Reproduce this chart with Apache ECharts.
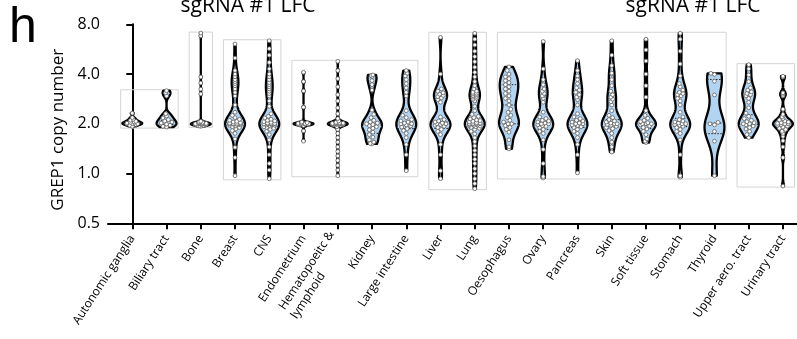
<!DOCTYPE html>
<html>
<head>
<meta charset="utf-8">
<script src="https://cdn.jsdelivr.net/npm/echarts@6/dist/echarts.min.js"></script>
<style>
  html, body { margin: 0; padding: 0; background: #fff; }
  #chart { width: 797px; height: 339px; }
</style>
</head>
<body>
<div id="chart"></div>
<script>
// Tissue categories along the x axis
const categories = [
  'Autonomic ganglia', 'Biliary tract', 'Bone', 'Breast', 'CNS', 'Endometrium',
  'Hematopoeitc &\nlymphoid', 'Kidney', 'Large intestine', 'Liver', 'Lung',
  'Oesophagus', 'Ovary', 'Pancreas', 'Skin', 'Soft tissue', 'Stomach',
  'Thyroid', 'Upper aero. tract', 'Urinary tract'
];

// GREP1 copy number per cell line, one array per tissue
const autonomicGanglia = [1.93, 1.96, 1.98, 2.0, 2.0, 2.01, 2.02, 2.04, 2.05, 2.07, 2.1, 2.13, 2.18, 2.32];
const biliaryTract = [1.91, 1.93, 1.96, 1.99, 2.02, 2.05, 2.08, 2.12, 2.17, 2.23, 2.3, 2.95, 3.08, 3.17];
const bone = [1.93, 1.94, 1.95, 1.96, 1.97, 1.98, 1.98, 1.99, 1.99, 2.0, 2.0, 2.0, 2.0, 2.01, 2.01, 2.02, 2.03,
  2.04, 2.05, 2.07, 3.03, 3.24, 3.53, 3.84, 6.8, 7.08];
const breast = [0.97, 1.25, 1.44, 1.62, 1.75, 1.82, 1.86, 1.9, 1.92, 1.94, 1.96, 1.97, 1.98, 1.99, 2.0, 2.0, 2.0,
  2.01, 2.02, 2.03, 2.05, 2.07, 2.1, 2.13, 2.18, 2.25, 2.35, 2.6, 2.95, 3.1, 3.25, 3.4, 3.5, 3.6, 3.7, 3.85, 4.0,
  4.2, 5.0, 6.08];
const cns = [0.93, 1.05, 1.15, 1.3, 1.45, 1.6, 1.72, 1.8, 1.85, 1.88, 1.9, 1.92, 1.94, 1.96, 1.97, 1.98, 1.99, 2.0,
  2.0, 2.0, 2.0, 2.01, 2.02, 2.04, 2.06, 2.08, 2.1, 2.13, 2.17, 2.22, 2.3, 2.55, 2.75, 2.95, 3.05, 3.15, 3.25, 3.35,
  3.45, 3.55, 3.7, 3.85, 4.0, 4.3, 4.7, 5.2, 5.7, 6.36];
const endometrium = [1.57, 1.81, 1.95, 1.97, 1.98, 1.99, 2.0, 2.0, 2.0, 2.0, 2.01, 2.02, 2.03, 2.05, 2.52, 3.16, 3.6, 4.1];
const hematopoietic = [0.97, 1.05, 1.12, 1.2, 1.28, 1.36, 1.45, 1.55, 1.65, 1.75, 1.85, 1.92, 1.96, 1.97, 1.98, 1.98,
  1.99, 1.99, 2.0, 2.0, 2.0, 2.0, 2.0, 2.0, 2.01, 2.01, 2.02, 2.02, 2.03, 2.04, 2.08, 2.15, 2.3, 2.5, 2.75, 3.0, 3.35,
  3.75, 4.2, 4.78];
const kidney = [1.51, 1.52, 1.55, 1.6, 1.66, 1.72, 1.78, 1.84, 1.88, 1.92, 1.95, 1.98, 2.0, 2.02, 2.05, 2.1, 2.18,
  2.28, 2.42, 3.2, 3.45, 3.65, 3.85, 3.92, 3.95];
const largeIntestine = [1.04, 1.3, 1.5, 1.65, 1.75, 1.82, 1.87, 1.91, 1.94, 1.97, 2.0, 2.0, 2.02, 2.05, 2.08, 2.12,
  2.18, 2.25, 2.4, 2.95, 3.1, 3.3, 3.5, 3.7, 3.9, 4.05, 4.2];
const liver = [0.93, 1.04, 1.3, 1.5, 1.72, 1.8, 1.85, 1.9, 1.93, 1.96, 1.98, 2.0, 2.0, 2.02, 2.05, 2.08, 2.12, 2.2,
  2.7, 2.8, 2.87, 2.92, 2.97, 3.02, 3.08, 3.15, 3.25, 4.0, 6.67];
const lung = [0.81, 0.87, 0.93, 1.0, 1.07, 1.15, 1.22, 1.3, 1.38, 1.47, 1.56, 1.65, 1.74, 1.8, 1.85, 1.88, 1.9, 1.92,
  1.94, 1.95, 1.96, 1.97, 1.98, 1.99, 2.0, 2.0, 2.0, 2.01, 2.02, 2.03, 2.05, 2.07, 2.09, 2.11, 2.14, 2.18, 2.22, 2.28,
  2.4, 2.55, 2.75, 2.82, 2.86, 2.9, 2.93, 2.96, 3.0, 3.03, 3.06, 3.1, 3.15, 3.25, 3.4, 3.6, 3.85, 4.1, 4.4, 4.75,
  5.1, 5.5, 6.0, 6.5, 7.06];
const oesophagus = [1.41, 1.45, 1.6, 1.78, 1.85, 1.9, 1.95, 2.0, 2.0, 2.05, 2.1, 2.18, 2.25, 2.35, 2.45, 2.6, 2.75,
  2.85, 2.95, 3.05, 3.15, 3.25, 3.35, 3.45, 3.55, 3.65, 3.75, 3.85, 4.0, 4.2, 4.42];
const ovary = [0.94, 0.96, 1.15, 1.4, 1.6, 1.75, 1.8, 1.85, 1.9, 1.93, 1.95, 1.97, 2.0, 2.0, 2.02, 2.05, 2.08, 2.1,
  2.15, 2.2, 2.35, 2.7, 2.85, 2.95, 3.05, 3.15, 3.25, 3.45, 3.7, 4.3, 6.3];
const pancreas = [1.01, 1.3, 1.5, 1.65, 1.75, 1.8, 1.85, 1.9, 1.92, 1.95, 1.97, 2.0, 2.0, 2.02, 2.05, 2.08, 2.1, 2.15,
  2.2, 2.3, 2.6, 2.8, 2.9, 3.0, 3.1, 3.2, 3.3, 3.5, 3.7, 3.9, 4.2, 4.82];
const skin = [1.35, 1.45, 1.55, 1.65, 1.75, 1.82, 1.87, 1.9, 1.93, 1.96, 1.98, 2.0, 2.0, 2.02, 2.05, 2.08, 2.12, 2.18,
  2.25, 2.4, 2.6, 2.72, 2.82, 2.9, 3.0, 3.15, 3.4, 3.7, 4.0, 4.05, 4.5, 5.2, 6.36];
const softTissue = [1.54, 1.57, 1.62, 1.72, 1.8, 1.86, 1.9, 1.94, 1.97, 2.0, 2.0, 2.0, 2.03, 2.06, 2.1, 2.16, 2.25,
  2.4, 2.9, 3.4, 4.0, 4.8, 5.6, 6.5];
const stomach = [0.95, 0.97, 1.3, 1.6, 1.75, 1.8, 1.85, 1.9, 1.93, 1.96, 1.98, 2.0, 2.0, 2.02, 2.05, 2.08, 2.12, 2.2,
  2.35, 2.6, 2.75, 2.85, 2.95, 3.0, 3.05, 3.1, 3.2, 3.35, 3.5, 3.9, 4.6, 5.5, 6.5, 7.06];
const thyroid = [0.97, 1.57, 1.8, 1.97, 2.0, 2.04, 2.99, 3.62, 3.98, 4.04];
const upperAeroTract = [1.65, 1.72, 1.8, 1.86, 1.9, 1.94, 1.97, 2.0, 2.0, 2.03, 2.06, 2.1, 2.15, 2.22, 2.32, 2.5, 2.7,
  2.85, 2.95, 3.0, 3.05, 3.12, 3.2, 3.3, 3.6, 3.95, 4.3, 4.56];
const urinaryTract = [0.84, 1.25, 1.45, 1.58, 1.68, 1.75, 1.8, 1.85, 1.88, 1.91, 1.94, 1.96, 1.98, 2.0, 2.0, 2.01,
  2.03, 2.05, 2.08, 2.11, 2.15, 2.2, 2.28, 2.45, 2.95, 3.02, 3.08, 3.84, 3.88];

const seriesValues = [
  autonomicGanglia, biliaryTract, bone, breast, cns, endometrium, hematopoietic, kidney,
  largeIntestine, liver, lung, oesophagus, ovary, pancreas, skin, softTissue, stomach,
  thyroid, upperAeroTract, urinaryTract
];

// y-axis tick values (log2 scale)
const yTicks = [0.5, 1.0, 2.0, 4.0, 8.0];

// Tissues that share a panel frame: [first index, last index]
const frameGroups = [[0, 1], [2, 2], [3, 4], [5, 8], [9, 10], [11, 17], [18, 19]];

const FONT = '"Open Sans", "Noto Sans", sans-serif';
const FILL = '#b1d4f2';
const catIdx = categories.map((_, i) => i);

function quantile(sorted, q) {
  const pos = (sorted.length - 1) * q;
  const lo = Math.floor(pos), hi = Math.ceil(pos);
  return sorted[lo] + (sorted[hi] - sorted[lo]) * (pos - lo);
}

// percentile on the (n + 1) basis, used for the median / quartile lines
function percentileN1(sorted, q) {
  const n = sorted.length;
  const pos = Math.min(n, Math.max(1, q * (n + 1))) - 1;
  const lo = Math.floor(pos), hi = Math.min(n - 1, lo + 1);
  return sorted[lo] + (sorted[hi] - sorted[lo]) * (pos - lo);
}

// Silverman-style bandwidth on log2 values
function bandwidth(logs) {
  const n = logs.length;
  const mean = logs.reduce((a, b) => a + b, 0) / n;
  const sd = Math.sqrt(logs.reduce((a, b) => a + (b - mean) * (b - mean), 0) / (n - 1));
  const s = logs.slice().sort((a, b) => a - b);
  const iqr = quantile(s, 0.75) - quantile(s, 0.25);
  let spread = Math.min(sd, iqr / 1.34);
  if (!(spread > 0)) spread = sd;
  return Math.max(0.025, 0.7 * 0.9 * spread * Math.pow(n, -0.2));
}

function density(logs, h, t) {
  let d = 0;
  for (const x of logs) {
    const z = (t - x) / h;
    d += Math.exp(-0.5 * z * z);
  }
  return d;
}

// Kernel density profile for each tissue, in log2 units, truncated at the data range
const profiles = seriesValues.map(vals => {
  const sorted = vals.slice().sort((a, b) => a - b);
  const logs = sorted.map(Math.log2);
  const h = bandwidth(logs);
  const lo = logs[0], hi = logs[logs.length - 1];
  const N = 240;
  const ts = [], ds = [];
  for (let k = 0; k <= N; k++) {
    const t = lo + (hi - lo) * k / N;
    ts.push(t);
    ds.push(density(logs, h, t));
  }
  const dmax = Math.max(...ds);
  return { sorted, ts, ws: ds.map(d => d / dmax), lo, hi };
});

function widthAt(prof, t) {
  if (prof.hi === prof.lo) return 1;
  const f = (t - prof.lo) / (prof.hi - prof.lo) * (prof.ts.length - 1);
  const k = Math.max(0, Math.min(prof.ts.length - 2, Math.floor(f)));
  const r = f - k;
  return prof.ws[k] * (1 - r) + prof.ws[k + 1] * r;
}

function renderViolin(params, api) {
  const i = api.value(2);
  const prof = profiles[i];
  const unit = api.coord([i + 1, 2])[0] - api.coord([i, 2])[0];
  const maxHalf = 0.29 * unit;
  const left = [], right = [];
  for (let k = 0; k < prof.ts.length; k++) {
    const p = api.coord([i, Math.pow(2, prof.ts[k])]);
    const w = prof.ws[k] * maxHalf;
    left.push([p[0] - w, p[1]]);
    right.push([p[0] + w, p[1]]);
  }
  const children = [{
    type: 'polygon',
    shape: { points: left.concat(right.reverse()) },
    style: { fill: FILL, stroke: '#000', lineWidth: 2.3, lineJoin: 'round' }
  }];

  // median and quartiles
  [0.25, 0.5, 0.75].forEach(q => {
    const v = percentileN1(prof.sorted, q);
    const p = api.coord([i, v]);
    const w = widthAt(prof, Math.log2(v)) * maxHalf;
    children.push({
      type: 'line',
      shape: { x1: p[0] - w, y1: p[1], x2: p[0] + w, y2: p[1] },
      style: { stroke: '#222', lineWidth: 1, lineDash: [1.5, 1.5] }
    });
  });

  // individual cell lines, spread sideways inside the violin
  const r = 1.9;
  const placed = [];
  prof.sorted.forEach(v => {
    const p = api.coord([i, v]);
    const avail = Math.max(0, widthAt(prof, Math.log2(v)) * maxHalf * 0.8 - 1.8);
    let best = 0, bestScore = Infinity;
    for (let k = 0; ; k++) {
      const off = k * 0.9;
      if (off > avail && k > 0) break;
      for (const s of (k === 0 ? [0] : [-off, off])) {
        let score = 0;
        for (const q of placed) {
          const dx = p[0] + s - q[0], dy = p[1] - q[1];
          const d = Math.sqrt(dx * dx + dy * dy);
          if (d < 2 * r) score += (2 * r - d);
        }
        if (score < bestScore - 1e-6) { bestScore = score; best = s; }
      }
    }
    placed.push([p[0] + best, p[1]]);
  });
  placed.forEach(c => children.push({
    type: 'circle',
    shape: { cx: c[0], cy: c[1], r: r },
    style: { fill: '#fff', stroke: '#5f5f5f', lineWidth: 0.8 }
  }));
  return { type: 'group', children };
}

function renderFrame(params, api) {
  const g = frameGroups[api.value(2)];
  let mn = Infinity, mx = -Infinity;
  for (let i = g[0]; i <= g[1]; i++) {
    seriesValues[i].forEach(v => { mn = Math.min(mn, v); mx = Math.max(mx, v); });
  }
  const p1 = api.coord([g[0] - 0.34, mx]);
  const p2 = api.coord([g[1] + 0.34, mn]);
  return {
    type: 'rect',
    shape: { x: p1[0], y: p1[1] - 1, width: p2[0] - p1[0], height: p2[1] - p1[1] + 2 },
    style: { fill: 'none', stroke: '#d4d4d4', lineWidth: 1 }
  };
}

// width of the first line of the two-line label, so the second line starts flush with it
const measureCtx = document.createElement('canvas').getContext('2d');
measureCtx.font = '12px ' + FONT;
const hemLineWidth = Math.ceil(measureCtx.measureText('Hematopoeitc &').width);

const chart = echarts.init(document.getElementById('chart'), null, { renderer: 'canvas' });
chart.setOption({
  animation: false,
  backgroundColor: '#fff',
  grid: { left: 108, right: 0, top: 24.3, bottom: 115.7, containLabel: false },
  xAxis: {
    type: 'value',
    min: -0.7095,
    max: 19.41,
    splitLine: { show: false },
    axisLine: { show: true, onZero: false, lineStyle: { color: '#000', width: 2 } },
    axisTick: { show: true, customValues: catIdx, length: 6, lineStyle: { color: '#000', width: 2 } },
    axisLabel: {
      customValues: catIdx,
      rotate: 57,
      margin: 13,
      fontSize: 12,
      fontFamily: FONT,
      color: '#000',
      formatter: v => {
        const c = categories[Math.round(v)];
        if (c.indexOf('\n') >= 0) {
          const parts = c.split('\n');
          return '{a|' + parts[0] + '}\n{b|' + parts[1] + '}';
        }
        return c;
      },
      rich: {
        a: { fontSize: 12, fontFamily: FONT, color: '#000', lineHeight: 15 },
        b: { fontSize: 12, fontFamily: FONT, color: '#000', lineHeight: 15, width: hemLineWidth, align: 'left' }
      }
    }
  },
  yAxis: {
    type: 'log',
    logBase: 2,
    min: yTicks[0],
    max: yTicks[yTicks.length - 1],
    splitLine: { show: false },
    axisLine: { show: true, lineStyle: { color: '#000', width: 2 } },
    axisTick: { show: true, length: 6, lineStyle: { color: '#000', width: 2 } },
    axisLabel: {
      margin: 8,
      fontSize: 16,
      fontFamily: FONT,
      color: '#000',
      formatter: v => Number(v).toFixed(1)
    },
    name: 'GREP1 copy number',
    nameLocation: 'middle',
    nameGap: 40,
    nameTextStyle: { fontSize: 17, fontFamily: FONT, color: '#000', padding: [0, 12, 0, 0] }
  },
  series: [
    {
      type: 'custom',
      name: 'frames',
      silent: true,
      clip: false,
      z: 1,
      encode: { x: 0, y: 1 },
      data: frameGroups.map((g, gi) => [(g[0] + g[1]) / 2, 2, gi]),
      renderItem: renderFrame
    },
    {
      type: 'custom',
      name: 'GREP1 copy number',
      clip: false,
      z: 2,
      encode: { x: 0, y: 1 },
      data: seriesValues.map((vals, i) => [i, quantile(vals.slice().sort((a, b) => a - b), 0.5), i]),
      renderItem: renderViolin
    }
  ],
  graphic: [
    { type: 'text', x: 9, y: 28, style: { text: 'h', fontSize: 50, fontFamily: '"Liberation Sans", Arial, sans-serif', fill: '#000', align: 'left', verticalAlign: 'middle' } },
    { type: 'text', x: 248, y: 6, style: { text: 'sgRNA #1 LFC', fontSize: 21, fontFamily: FONT, fill: '#000', align: 'center', verticalAlign: 'middle' } },
    { type: 'text', x: 693, y: 6, style: { text: 'sgRNA #1 LFC', fontSize: 21, fontFamily: FONT, fill: '#000', align: 'center', verticalAlign: 'middle' } }
  ]
});
</script>
</body>
</html>
